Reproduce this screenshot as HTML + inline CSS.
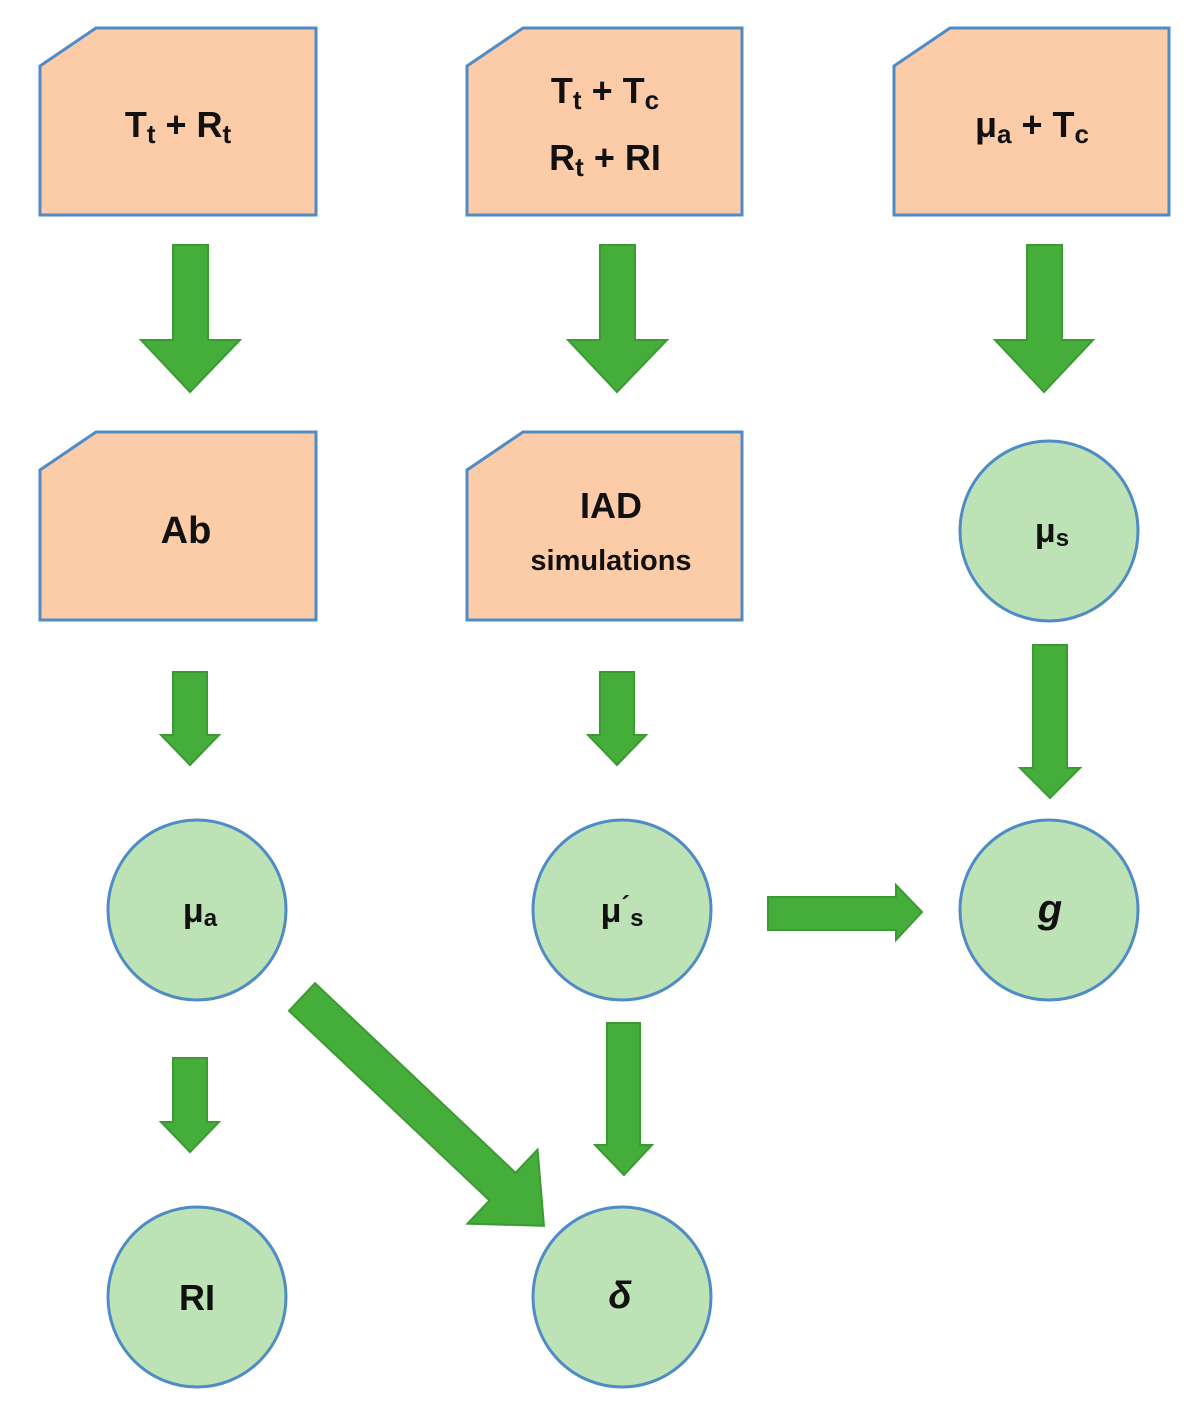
<!DOCTYPE html>
<html><head><meta charset="utf-8"><style>
html,body{margin:0;padding:0;background:#fff;}
svg{display:block;}
text{font-family:"Liberation Sans","DejaVu Sans",sans-serif;font-weight:bold;fill:#111;}
</style></head><body>
<svg width="1198" height="1412" viewBox="0 0 1198 1412" xmlns="http://www.w3.org/2000/svg">
<g fill="#FCCBA8" stroke="#4F8BC4" stroke-width="3">
<path d="M40,66 L96,28 L316,28 L316,215 L40,215 Z"/>
<path d="M467,66 L523,28 L742,28 L742,215 L467,215 Z"/>
<path d="M894,66 L950,28 L1169,28 L1169,215 L894,215 Z"/>
<path d="M40,470 L96,432 L316,432 L316,620 L40,620 Z"/>
<path d="M467,470 L523,432 L742,432 L742,620 L467,620 Z"/>
</g>
<g fill="#BDE2B5" stroke="#4F8BC4" stroke-width="3">
<ellipse cx="1049" cy="531" rx="89" ry="90"/>
<ellipse cx="197" cy="910" rx="89" ry="90"/>
<ellipse cx="622" cy="910" rx="89" ry="90"/>
<ellipse cx="1049" cy="910" rx="89" ry="90"/>
<ellipse cx="197" cy="1297" rx="89" ry="90"/>
<ellipse cx="622" cy="1297" rx="89" ry="90"/>
</g>
<g fill="#45AE3A" stroke="#3B9A32" stroke-width="2">
<polygon points="173,245 208,245 208,340 240,340 190,392 141,340 173,340"/>
<polygon points="600,245 635,245 635,340 667,340 617,392 568,340 600,340"/>
<polygon points="1027,245 1062,245 1062,340 1093,340 1044,392 995,340 1027,340"/>
<polygon points="173,672 207,672 207,735 219,735 190,765 161,735 173,735"/>
<polygon points="600,672 634,672 634,735 646,735 617,765 588,735 600,735"/>
<polygon points="1033,645 1067,645 1067,768 1080,768 1050,798 1020,768 1033,768"/>
<polygon points="768,897 896,897 896,885 922,912 896,940 896,930 768,930"/>
<polygon points="173,1058 207,1058 207,1122 219,1122 190,1152 161,1122 173,1122"/>
<polygon points="607,1023 640,1023 640,1145 652,1145 624,1175 595,1145 607,1145"/>
<g transform="translate(302,997) rotate(43.4)">
<polygon points="0,-19 276,-19 276,-51 333,0 276,51 276,19 0,19"/>
</g>
</g>
<text x="178" y="137" font-size="36" text-anchor="middle">T<tspan font-size="26" dy="6">t</tspan><tspan dy="-6"> + R</tspan><tspan font-size="26" dy="6">t</tspan></text>
<text x="605" y="103" font-size="36" text-anchor="middle">T<tspan font-size="26" dy="6">t</tspan><tspan dy="-6"> + T</tspan><tspan font-size="26" dy="6">c</tspan></text>
<text x="605" y="170" font-size="36" text-anchor="middle">R<tspan font-size="26" dy="6">t</tspan><tspan dy="-6"> + RI</tspan></text>
<text x="1032" y="137" font-size="36" text-anchor="middle">μ<tspan font-size="26" dy="6">a</tspan><tspan dy="-6"> + T</tspan><tspan font-size="26" dy="6">c</tspan></text>
<text x="186" y="543" font-size="38" text-anchor="middle">Ab</text>
<text x="611" y="518" font-size="36" text-anchor="middle">IAD</text>
<text x="611" y="570" font-size="29" text-anchor="middle">simulations</text>
<text x="1052" y="542" font-size="34" text-anchor="middle">μ<tspan font-size="24" dy="4">s</tspan></text>
<text x="200" y="922" font-size="34" text-anchor="middle">μ<tspan font-size="24" dy="4">a</tspan></text>
<text x="622" y="922" font-size="34" text-anchor="middle">μ<tspan font-size="26" dy="-8">´</tspan><tspan font-size="24" dy="12">s</tspan></text>
<text x="1050" y="922" font-size="40" font-style="italic" text-anchor="middle">g</text>
<text x="197" y="1310" font-size="36" text-anchor="middle">RI</text>
<text x="620" y="1308" font-size="38" font-style="italic" font-weight="normal" text-anchor="middle">δ</text>
</svg>
</body></html>
